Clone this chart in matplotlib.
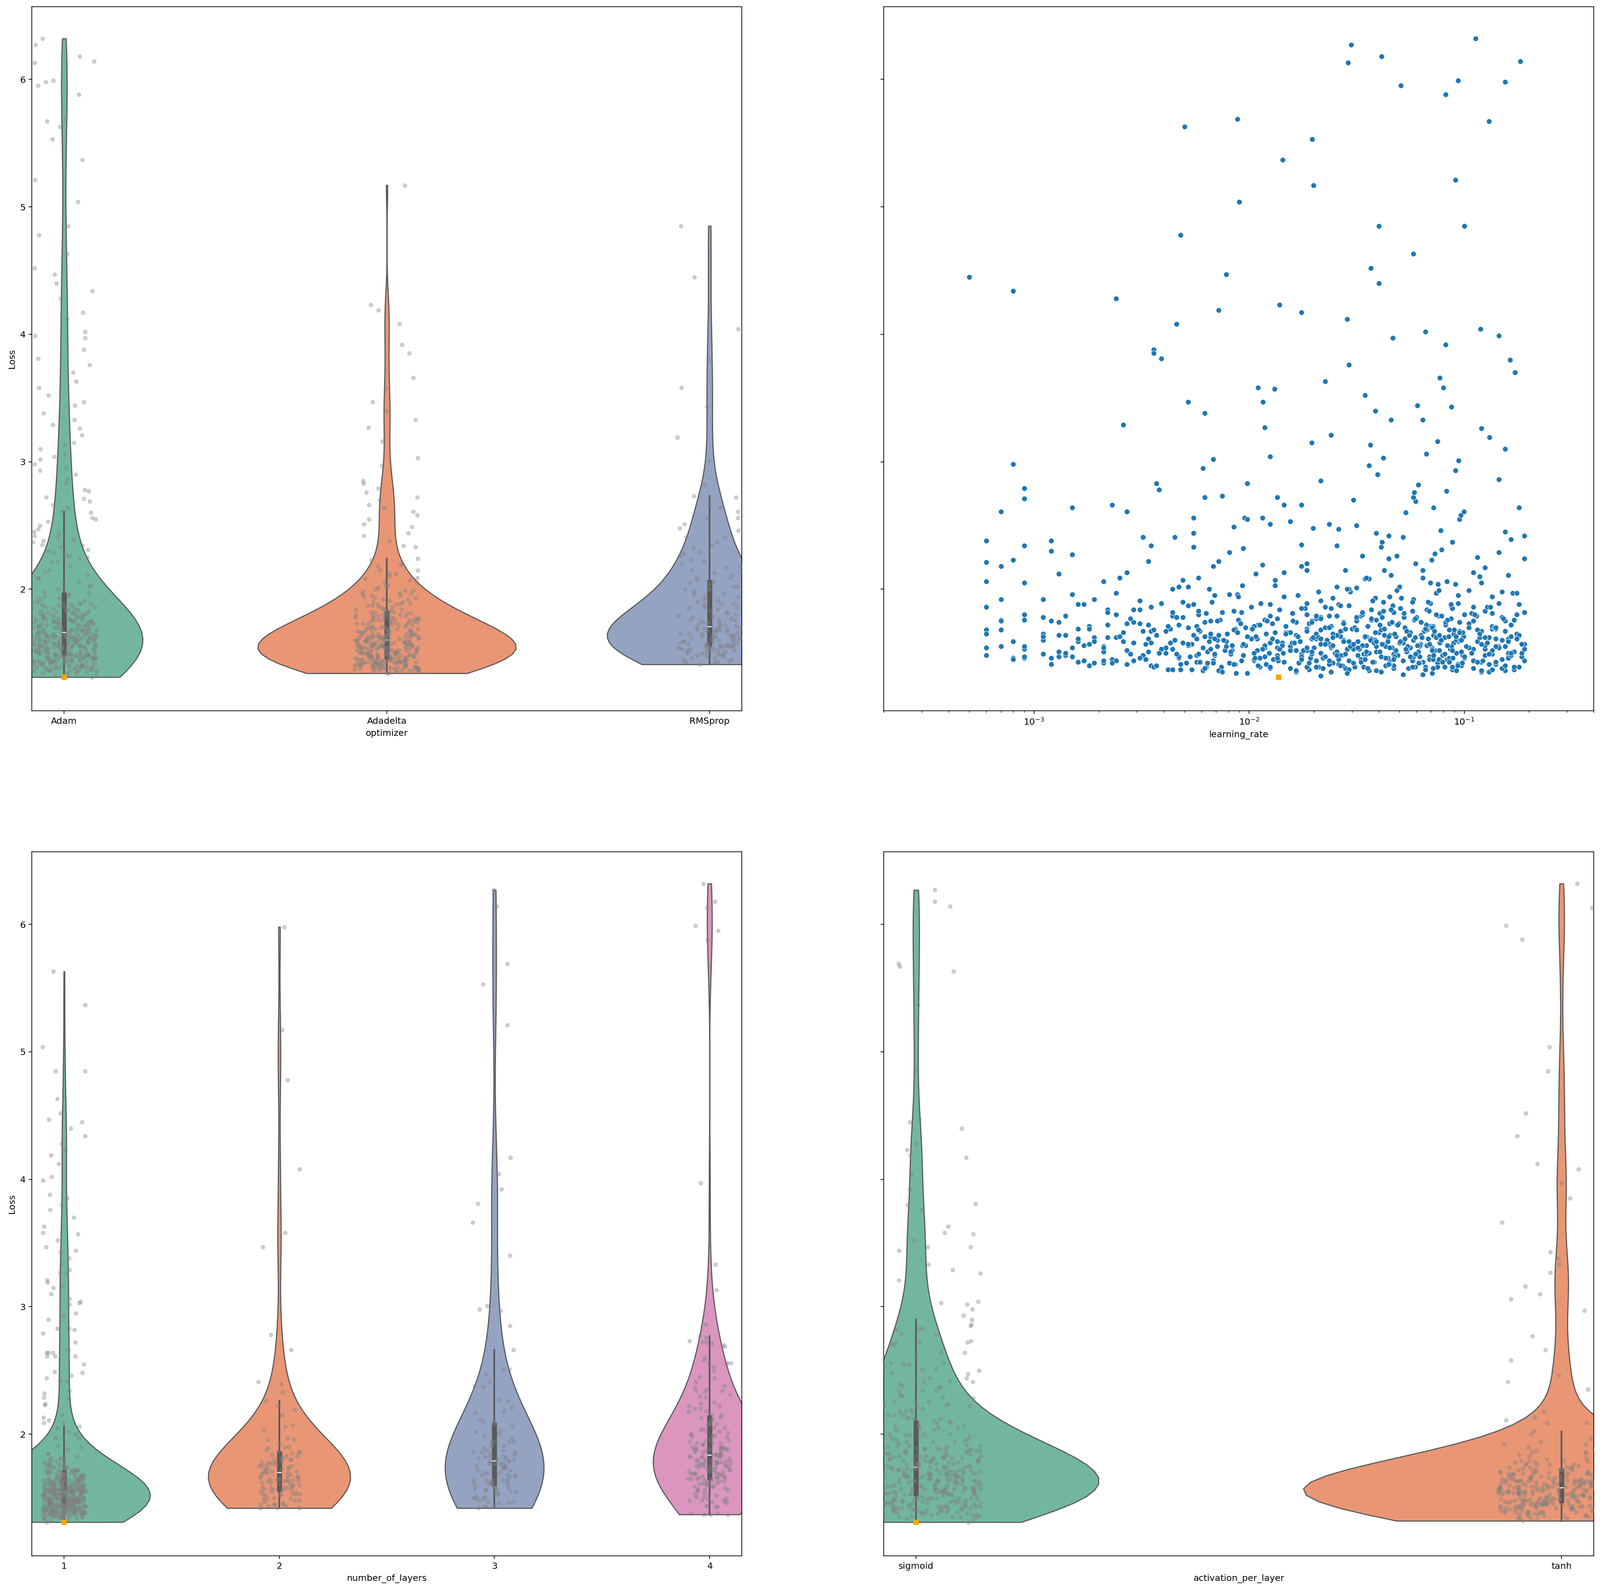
import numpy as np
import pandas as pd
import matplotlib
matplotlib.use('Agg')
import matplotlib.pyplot as plt
import seaborn as sns

optimizer_names = ['Adam', 'Adadelta', 'RMSprop']
activation_names = ['sigmoid', 'tanh']
layer_names = ['1', '2', '3', '4']

# trials grouped by optimizer; layers = number_of_layers, act = index into activation_names
loss_adam = [
    1.31, 1.33, 1.34, 1.34, 1.35, 1.35, 1.36, 1.36, 1.36, 1.37,
    1.37, 1.37, 1.38, 1.38, 1.38, 1.38, 1.39, 1.39, 1.39, 1.39,
    1.39, 1.39, 1.40, 1.40, 1.40, 1.41, 1.41, 1.41, 1.41, 1.42,
    1.42, 1.42, 1.42, 1.43, 1.43, 1.43, 1.43, 1.44, 1.44, 1.44,
    1.44, 1.44, 1.45, 1.45, 1.45, 1.45, 1.45, 1.46, 1.46, 1.46,
    1.46, 1.46, 1.47, 1.47, 1.47, 1.47, 1.47, 1.48, 1.48, 1.48,
    1.48, 1.48, 1.49, 1.49, 1.49, 1.49, 1.49, 1.49, 1.50, 1.50,
    1.50, 1.51, 1.51, 1.51, 1.52, 1.52, 1.52, 1.52, 1.53, 1.53,
    1.53, 1.53, 1.54, 1.54, 1.54, 1.54, 1.54, 1.55, 1.55, 1.55,
    1.55, 1.56, 1.56, 1.56, 1.56, 1.57, 1.57, 1.57, 1.57, 1.58,
    1.58, 1.58, 1.58, 1.58, 1.59, 1.59, 1.59, 1.59, 1.59, 1.60,
    1.60, 1.60, 1.61, 1.61, 1.61, 1.61, 1.62, 1.62, 1.62, 1.62,
    1.63, 1.63, 1.63, 1.63, 1.64, 1.64, 1.64, 1.64, 1.64, 1.65,
    1.65, 1.65, 1.66, 1.66, 1.66, 1.67, 1.67, 1.67, 1.68, 1.68,
    1.68, 1.69, 1.69, 1.69, 1.70, 1.70, 1.71, 1.71, 1.71, 1.72,
    1.72, 1.72, 1.73, 1.73, 1.74, 1.74, 1.74, 1.75, 1.75, 1.76,
    1.76, 1.77, 1.77, 1.78, 1.78, 1.79, 1.79, 1.80, 1.80, 1.81,
    1.82, 1.82, 1.83, 1.84, 1.84, 1.85, 1.86, 1.86, 1.87, 1.88,
    1.88, 1.89, 1.90, 1.91, 1.92, 1.93, 1.94, 1.95, 1.96, 1.97,
    1.98, 1.99, 2.00, 2.02, 2.03, 2.05, 2.06, 2.08, 2.09, 2.11,
    2.13, 2.15, 2.18, 2.21, 2.25, 2.29, 2.33, 2.38, 2.42, 2.47,
    2.56, 2.64, 2.71, 2.78, 2.86, 2.95, 3.10, 3.47, 3.70, 3.97,
    4.34, 4.40, 4.52, 4.78, 4.85, 5.04, 5.21, 5.37, 5.53, 5.63,
    5.67, 5.69, 5.88, 5.95, 5.98, 5.99, 6.13, 6.14, 6.18, 6.27,
    6.32,
    1.32, 1.33, 1.34, 1.35, 1.36, 1.37, 1.37, 1.38, 1.39, 1.39,
    1.40, 1.40, 1.41, 1.42, 1.42, 1.43, 1.43, 1.44, 1.44, 1.44,
    1.45, 1.45, 1.46, 1.46, 1.46, 1.47, 1.47, 1.47, 1.48, 1.48,
    1.48, 1.49, 1.49, 1.50, 1.50, 1.51, 1.51, 1.52, 1.52, 1.53,
    1.53, 1.54, 1.54, 1.55, 1.55, 1.55, 1.56, 1.56, 1.57, 1.57,
    1.57, 1.58, 1.58, 1.58, 1.59, 1.59, 1.60, 1.60, 1.60, 1.61,
    1.61, 1.61, 1.62, 1.62, 1.62, 1.63, 1.63, 1.63, 1.64, 1.64,
    1.64, 1.65, 1.65, 1.66, 1.66, 1.67, 1.67, 1.68, 1.68, 1.69,
    1.69, 1.70, 1.70, 1.71, 1.71, 1.72, 1.72, 1.73, 1.73, 1.73,
    1.74, 1.74, 1.75, 1.75, 1.75, 1.76, 1.76, 1.77, 1.77, 1.78,
    1.78, 1.79, 1.79, 1.80, 1.80, 1.80, 1.81, 1.81, 1.82, 1.83,
    1.83, 1.84, 1.85, 1.86, 1.86, 1.87, 1.88, 1.89, 1.89, 1.90,
    2.93, 3.04, 3.13, 3.29, 3.44, 3.63, 3.81, 3.99, 4.12, 4.47,
    2.24, 2.27, 2.31, 2.35, 2.39, 2.44, 2.50, 2.55, 2.60, 2.66,
    2.72, 2.77, 2.83, 2.90, 2.98, 3.06, 3.15, 3.26, 3.38, 3.52,
    2.22, 2.26, 2.30, 2.34, 2.37, 2.41, 2.45, 2.53, 2.61, 2.69,
    3.02, 3.21, 3.33, 3.58, 3.76, 3.88, 4.02, 4.17, 4.28, 4.63,
]
lr_adam = [
    0.0137, 0.052, 0.0098, 0.071, 0.024, 0.13, 0.0061, 0.036, 0.155, 0.019,
    0.088, 0.0042, 0.028, 0.11, 0.047, 0.0155, 0.066, 0.18, 0.0074, 0.031,
    0.059, 0.021, 0.0035, 0.097, 0.043, 0.012, 0.14, 0.0086, 0.026, 0.0021,
    0.075, 0.017, 0.0051, 0.12, 0.038, 0.0016, 0.064, 0.029, 0.19, 0.0105,
    0.045, 0.0068, 0.083, 0.0023, 0.15, 0.033, 0.0129, 0.057, 0.0047, 0.0009,
    0.1, 0.022, 0.0013, 0.069, 0.0118, 0.041, 0.16, 0.0057, 0.027, 0.079,
    0.0032, 0.049, 0.135, 0.0175, 0.0082, 0.061, 0.034, 0.0011, 0.092, 0.0144,
    0.025, 0.0064, 0.17, 0.039, 0.0185, 0.0027, 0.073, 0.0109, 0.054, 0.125,
    0.0039, 0.086, 0.02, 0.0006, 0.046, 0.0135, 0.105, 0.0071, 0.03, 0.062,
    0.145, 0.0093, 0.035, 0.0017, 0.068, 0.0235, 0.0054, 0.19, 0.042, 0.0125,
    0.077, 0.0029, 0.051, 0.016, 0.115, 0.0078, 0.032, 0.0008, 0.094, 0.023,
    0.0045, 0.058, 0.0195, 0.16, 0.037, 0.0102, 0.081, 0.0019, 0.044, 0.13,
    0.0265, 0.0066, 0.099, 0.048, 0.0014, 0.0165, 0.072, 0.0037, 0.175, 0.056,
    0.012, 0.089, 0.0026, 0.04, 0.0148, 0.12, 0.0059, 0.065, 0.0215, 0.0007,
    0.085, 0.0043, 0.03, 0.14, 0.0096, 0.053, 0.0018, 0.024, 0.07, 0.011,
    0.165, 0.0034, 0.045, 0.0128, 0.095, 0.0062, 0.0275, 0.11, 0.0012, 0.039,
    0.0089, 0.06, 0.0205, 0.15, 0.0049, 0.076, 0.033, 0.0024, 0.1, 0.0158,
    0.047, 0.0075, 0.125, 0.0022, 0.067, 0.0182, 0.0006, 0.087, 0.029, 0.0055,
    0.18, 0.0113, 0.042, 0.0031, 0.058, 0.0245, 0.135, 0.0069, 0.0015, 0.074,
    0.021, 0.105, 0.0044, 0.05, 0.0132, 0.0009, 0.083, 0.036, 0.0058, 0.16,
    0.0027, 0.064, 0.0175, 0.0006, 0.115, 0.0081, 0.041, 0.0012, 0.19, 0.026,
    0.0095, 0.072, 0.0009, 0.0038, 0.145, 0.0061, 0.155, 0.0052, 0.172, 0.0464,
    0.0008, 0.040, 0.0368, 0.0048, 0.100, 0.0090, 0.091, 0.0143, 0.0196, 0.0050,
    0.130, 0.0088, 0.082, 0.0507, 0.155, 0.0935, 0.0288, 0.182, 0.0412, 0.0297,
    0.113,
    0.0215, 0.064, 0.0087, 0.12, 0.039, 0.0054, 0.17, 0.028, 0.0112, 0.081,
    0.047, 0.0018, 0.093, 0.0245, 0.0068, 0.14, 0.033, 0.0136, 0.0575, 0.0029,
    0.0105, 0.076, 0.0008, 0.044, 0.0192, 0.185, 0.0047, 0.062, 0.0265, 0.0014,
    0.098, 0.0058, 0.035, 0.0124, 0.16, 0.0021, 0.054, 0.0178, 0.0083, 0.11,
    0.0305, 0.0041, 0.071, 0.0155, 0.0007, 0.043, 0.125, 0.0096, 0.0225, 0.0625,
    0.0033, 0.089, 0.0142, 0.052, 0.0016, 0.029, 0.15, 0.0071, 0.0385, 0.0205,
    0.068, 0.0109, 0.0024, 0.118, 0.0345, 0.0062, 0.0845, 0.0168, 0.0011, 0.045,
    0.0255, 0.175, 0.0079, 0.056, 0.0132, 0.0035, 0.095, 0.041, 0.0006, 0.0185,
    0.135, 0.0052, 0.031, 0.0715, 0.0148, 0.0022, 0.0485, 0.105, 0.0091, 0.0275,
    0.0013, 0.063, 0.0195, 0.155, 0.0066, 0.037, 0.0118, 0.0865, 0.0028, 0.0525,
    0.0215, 0.114, 0.0044, 0.0335, 0.0009, 0.074, 0.0159, 0.0405, 0.19, 0.0085,
    0.0575, 0.0031, 0.024, 0.128, 0.0102, 0.0465, 0.0017, 0.0695, 0.0185, 0.0049,
    0.091, 0.0125, 0.0365, 0.0026, 0.0605, 0.0225, 0.0039, 0.145, 0.0285, 0.0078,
    0.0445, 0.0015, 0.0785, 0.0175, 0.165, 0.0055, 0.0315, 0.0098, 0.0535, 0.0023,
    0.0135, 0.0825, 0.0037, 0.0395, 0.0008, 0.0665, 0.0195, 0.12, 0.0062, 0.0345,
    0.0072, 0.0485, 0.0012, 0.0255, 0.088, 0.0045, 0.155, 0.0155, 0.0007, 0.0595,
    0.0068, 0.024, 0.0455, 0.011, 0.029, 0.0036, 0.066, 0.0175, 0.0024, 0.058,
]
layers_adam = [
    1, 1, 1, 1, 1, 1, 1, 1, 1, 4,
    1, 1, 1, 4, 1, 1, 1, 1, 1, 1,
    1, 1, 1, 1, 1, 1, 1, 1, 1, 1,
    1, 1, 1, 3, 1, 1, 4, 1, 2, 1,
    1, 1, 1, 2, 1, 1, 1, 1, 3, 1,
    1, 1, 1, 1, 2, 1, 1, 4, 1, 1,
    1, 3, 1, 1, 1, 1, 1, 1, 2, 1,
    1, 1, 4, 1, 1, 2, 1, 3, 1, 1,
    1, 2, 1, 1, 1, 1, 1, 3, 1, 1,
    1, 1, 2, 1, 4, 1, 1, 3, 1, 1,
    1, 2, 1, 1, 3, 1, 1, 1, 1, 1,
    1, 2, 1, 4, 1, 1, 3, 1, 2, 1,
    1, 1, 4, 1, 2, 1, 3, 1, 1, 4,
    1, 2, 1, 4, 1, 3, 1, 1, 4, 1,
    1, 4, 2, 1, 3, 1, 4, 1, 2, 1,
    4, 1, 2, 3, 1, 4, 1, 2, 4, 1,
    4, 4, 3, 2, 4, 1, 4, 2, 1, 3,
    4, 4, 3, 2, 4, 1, 4, 2, 3, 4,
    4, 2, 4, 3, 4, 4, 3, 4, 2, 1,
    4, 3, 1, 4, 2, 4, 3, 4, 1, 4,
    4, 1, 4, 3, 4, 1, 2, 4, 1, 3,
    4, 1, 4, 2, 4, 1, 1, 1, 1, 4,
    1, 1, 1, 2, 1, 1, 3, 1, 3, 1,
    4, 3, 4, 4, 2, 4, 4, 3, 4, 3,
    4,
    1, 1, 1, 1, 1, 4, 1, 1, 1, 1,
    1, 1, 1, 2, 1, 3, 1, 4, 1, 1,
    1, 2, 1, 4, 1, 3, 1, 1, 4, 1,
    1, 4, 1, 2, 3, 1, 4, 1, 2, 1,
    4, 1, 3, 1, 2, 4, 1, 1, 3, 4,
    1, 4, 2, 1, 3, 4, 1, 2, 4, 3,
    4, 2, 1, 3, 4, 1, 2, 4, 3, 1,
    2, 4, 3, 1, 4, 2, 4, 3, 1, 4,
    4, 3, 2, 4, 1, 4, 3, 2, 4, 1,
    2, 4, 3, 4, 1, 2, 4, 3, 4, 2,
    4, 3, 4, 2, 3, 4, 1, 3, 4, 2,
    3, 4, 2, 4, 3, 4, 1, 3, 4, 2,
    1, 1, 4, 1, 1, 1, 3, 1, 1, 1,
    4, 3, 4, 4, 2, 1, 4, 1, 4, 1,
    1, 4, 1, 1, 3, 1, 1, 1, 1, 1,
    4, 3, 4, 1, 4, 3, 4, 4, 1, 4,
    1, 1, 1, 2, 1, 1, 1, 3, 1, 1,
]
act_adam = [
    0, 1, 0, 1, 0, 0, 1, 0, 1, 0,
    1, 0, 0, 1, 0, 1, 0, 0, 1, 0,
    0, 1, 1, 0, 0, 1, 0, 1, 0, 0,
    1, 0, 1, 0, 1, 0, 0, 1, 0, 1,
    0, 1, 1, 0, 1, 0, 1, 0, 1, 0,
    1, 0, 1, 1, 0, 1, 0, 1, 0, 1,
    1, 1, 0, 1, 0, 1, 0, 1, 1, 0,
    0, 1, 1, 0, 1, 1, 0, 1, 0, 1,
    1, 0, 1, 1, 0, 1, 1, 0, 1, 0,
    1, 1, 0, 1, 1, 0, 1, 0, 1, 0,
    0, 1, 1, 0, 1, 1, 0, 1, 1, 0,
    1, 0, 1, 1, 0, 1, 0, 1, 1, 0,
    0, 1, 0, 1, 1, 0, 1, 0, 1, 0,
    1, 0, 1, 0, 0, 1, 0, 1, 0, 1,
    0, 1, 0, 1, 0, 0, 1, 0, 1, 0,
    1, 0, 0, 1, 0, 0, 1, 0, 0, 1,
    0, 0, 1, 0, 0, 1, 0, 0, 1, 0,
    0, 1, 0, 0, 0, 1, 0, 0, 1, 0,
    0, 0, 1, 0, 0, 0, 1, 0, 0, 0,
    0, 0, 0, 1, 0, 0, 0, 0, 1, 0,
    0, 0, 1, 0, 0, 0, 0, 1, 0, 0,
    0, 1, 0, 0, 0, 0, 1, 0, 0, 1,
    1, 0, 1, 0, 1, 1, 0, 0, 1, 0,
    0, 0, 1, 0, 0, 1, 1, 0, 0, 0,
    1,
    1, 0, 1, 0, 0, 1, 0, 1, 0, 1,
    0, 1, 0, 1, 1, 0, 0, 1, 0, 0,
    1, 0, 1, 1, 0, 1, 0, 1, 1, 0,
    0, 1, 1, 0, 1, 0, 1, 1, 0, 1,
    1, 1, 0, 1, 0, 1, 1, 0, 1, 0,
    0, 1, 1, 0, 1, 1, 0, 1, 0, 1,
    1, 0, 1, 1, 0, 1, 0, 1, 1, 0,
    0, 1, 0, 1, 1, 0, 1, 0, 0, 1,
    1, 0, 0, 1, 0, 1, 0, 0, 1, 0,
    0, 1, 0, 0, 1, 0, 1, 0, 0, 1,
    0, 0, 1, 0, 0, 1, 0, 0, 0, 1,
    0, 1, 0, 0, 0, 0, 1, 0, 0, 0,
    0, 0, 1, 0, 0, 0, 0, 0, 1, 0,
    0, 0, 0, 1, 0, 0, 0, 0, 0, 0,
    0, 1, 0, 0, 0, 1, 0, 0, 1, 0,
    0, 0, 0, 0, 0, 0, 1, 0, 0, 0,
    0, 0, 1, 0, 0, 1, 0, 0, 0, 1,
]

loss_adadelta = [
    1.34, 1.35, 1.35, 1.36, 1.36, 1.37, 1.37, 1.37, 1.38, 1.38,
    1.38, 1.38, 1.39, 1.39, 1.39, 1.39, 1.39, 1.39, 1.39, 1.40,
    1.40, 1.40, 1.41, 1.41, 1.41, 1.41, 1.42, 1.42, 1.42, 1.42,
    1.43, 1.43, 1.43, 1.43, 1.43, 1.44, 1.44, 1.44, 1.44, 1.44,
    1.45, 1.45, 1.45, 1.45, 1.46, 1.46, 1.46, 1.46, 1.46, 1.47,
    1.47, 1.47, 1.47, 1.47, 1.48, 1.48, 1.48, 1.48, 1.49, 1.49,
    1.49, 1.49, 1.49, 1.50, 1.50, 1.50, 1.51, 1.51, 1.51, 1.51,
    1.52, 1.52, 1.52, 1.52, 1.53, 1.53, 1.53, 1.53, 1.54, 1.54,
    1.54, 1.54, 1.54, 1.55, 1.55, 1.55, 1.55, 1.56, 1.56, 1.56,
    1.56, 1.57, 1.57, 1.57, 1.57, 1.58, 1.58, 1.58, 1.59, 1.59,
    1.59, 1.59, 1.60, 1.60, 1.60, 1.61, 1.61, 1.61, 1.62, 1.62,
    1.62, 1.63, 1.63, 1.63, 1.64, 1.64, 1.64, 1.65, 1.65, 1.66,
    1.66, 1.67, 1.67, 1.68, 1.68, 1.69, 1.69, 1.70, 1.70, 1.71,
    1.72, 1.72, 1.73, 1.74, 1.74, 1.75, 1.76, 1.76, 1.77, 1.78,
    1.78, 1.79, 1.80, 1.81, 1.82, 1.83, 1.84, 1.85, 1.86, 1.88,
    1.89, 1.90, 1.92, 1.93, 1.95, 1.97, 1.99, 2.01, 2.03, 2.05,
    2.07, 2.09, 2.12, 2.15, 2.19, 2.24, 2.33, 2.38, 2.44, 2.49,
    2.55, 2.61, 2.66, 2.72, 2.79, 2.85, 2.97, 3.03, 3.16, 3.27,
    3.33, 3.40, 3.47, 3.57, 3.66, 3.85, 3.92, 4.08, 4.19, 4.23,
    5.17,
    1.34, 1.35, 1.36, 1.36, 1.37, 1.37, 1.38, 1.38, 1.38, 1.39,
    1.39, 1.39, 1.40, 1.40, 1.40, 1.41, 1.41, 1.41, 1.42, 1.42,
    1.42, 1.42, 1.43, 1.43, 1.43, 1.44, 1.44, 1.44, 1.45, 1.45,
    1.45, 1.46, 1.46, 1.46, 1.47, 1.47, 1.48, 1.48, 1.48, 1.49,
    1.49, 1.50, 1.50, 1.50, 1.51, 1.51, 1.52, 1.52, 1.53, 1.53,
    1.53, 1.54, 1.54, 1.55, 1.55, 1.55, 1.56, 1.56, 1.56, 1.57,
    1.57, 1.57, 1.58, 1.58, 1.58, 1.59, 1.59, 1.59, 1.60, 1.60,
    1.60, 1.61, 1.61, 1.61, 1.62, 1.62, 1.62, 1.63, 1.63, 1.63,
    1.64, 1.64, 1.65, 1.65, 1.65, 1.66, 1.66, 1.67, 1.67, 1.67,
    1.68, 1.68, 1.69, 1.69, 1.70, 1.70, 1.71, 1.71, 1.72, 1.72,
    1.73, 1.73, 1.74, 1.74, 1.75, 1.75, 1.76, 1.76, 1.77, 1.77,
    1.77, 1.78, 1.78, 1.79, 1.79, 1.79, 1.80, 1.80, 1.81, 1.81,
    1.82, 1.82, 1.83, 1.84, 1.84, 1.85, 1.86, 1.87, 1.87, 1.88,
    1.89, 1.90, 1.91, 1.92, 1.93, 1.94, 1.95, 1.96, 1.97, 1.98,
    1.99, 2.00, 2.02, 2.04, 2.06, 2.08, 2.10, 2.12, 2.15, 2.18,
    2.20, 2.23, 2.34, 2.42, 2.51, 2.58, 2.64, 2.70, 2.76, 2.83,
]
lr_adadelta = [
    0.0098, 0.041, 0.0165, 0.12, 0.0072, 0.029, 0.066, 0.0044, 0.15, 0.022,
    0.055, 0.0125, 0.088, 0.0036, 0.034, 0.17, 0.0185, 0.0063, 0.075, 0.027,
    0.011, 0.093, 0.0048, 0.045, 0.0235, 0.13, 0.0081, 0.062, 0.0019, 0.0305,
    0.14, 0.0057, 0.038, 0.0145, 0.079, 0.0024, 0.052, 0.0092, 0.11, 0.0205,
    0.069, 0.0033, 0.026, 0.0175, 0.16, 0.0008, 0.043, 0.0112, 0.085, 0.0053,
    0.0225, 0.1, 0.0015, 0.058, 0.0135, 0.032, 0.0069, 0.125, 0.047, 0.0028,
    0.081, 0.0195, 0.0046, 0.185, 0.036, 0.0105, 0.061, 0.0013, 0.0255, 0.097,
    0.0077, 0.048, 0.0165, 0.135, 0.0039, 0.071, 0.0285, 0.0009, 0.056, 0.0118,
    0.105, 0.024, 0.0061, 0.087, 0.0021, 0.039, 0.155, 0.0142, 0.067, 0.0052,
    0.0335, 0.0094, 0.12, 0.0018, 0.0215, 0.077, 0.0043, 0.05, 0.0172, 0.16,
    0.0065, 0.044, 0.0011, 0.092, 0.0275, 0.0128, 0.14, 0.0034, 0.059, 0.0198,
    0.074, 0.0025, 0.035, 0.0107, 0.18, 0.0055, 0.063, 0.0245, 0.0006, 0.098,
    0.0152, 0.054, 0.0041, 0.115, 0.0315, 0.0086, 0.0016, 0.071, 0.0225, 0.135,
    0.0047, 0.082, 0.019, 0.0029, 0.046, 0.0121, 0.17, 0.0073, 0.037, 0.0011,
    0.06, 0.0205, 0.0058, 0.108, 0.0022, 0.042, 0.0138, 0.088, 0.0035, 0.026,
    0.145, 0.0067, 0.0007, 0.051, 0.0168, 0.0024, 0.076, 0.0315, 0.0093, 0.12,
    0.0049, 0.064, 0.0013, 0.028, 0.0115, 0.19, 0.0055, 0.0006, 0.039, 0.0085,
    0.095, 0.0027, 0.0145, 0.058, 0.0009, 0.0215, 0.036, 0.042, 0.075, 0.0118,
    0.064, 0.0386, 0.0116, 0.0131, 0.077, 0.0036, 0.082, 0.0046, 0.0072, 0.0138,
    0.0199,
    0.0285, 0.0075, 0.092, 0.0165, 0.0048, 0.135, 0.0355, 0.0062, 0.0715, 0.0205,
    0.0125, 0.0575, 0.0037, 0.155, 0.0265, 0.0085, 0.0012, 0.0445, 0.019, 0.0615,
    0.0023, 0.0975, 0.0145, 0.0375, 0.0059, 0.122, 0.0017, 0.0235, 0.0715, 0.0008,
    0.0345, 0.0106, 0.0885, 0.0031, 0.0475, 0.0175, 0.0006, 0.165, 0.0255, 0.0069,
    0.0595, 0.0014, 0.0215, 0.108, 0.0082, 0.0405, 0.0027, 0.0765, 0.0138, 0.0325,
    0.0044, 0.145, 0.0185, 0.0545, 0.0009, 0.0295, 0.0118, 0.0835, 0.0052, 0.0415,
    0.0225, 0.0689, 0.0035, 0.128, 0.0158, 0.0019, 0.0505, 0.0275, 0.0076, 0.0955,
    0.0365, 0.0057, 0.175, 0.0128, 0.0635, 0.0022, 0.0245, 0.0915, 0.0098, 0.0445,
    0.0013, 0.0555, 0.0205, 0.118, 0.0066, 0.0385, 0.0155, 0.0032, 0.0725, 0.0268,
    0.0895, 0.0085, 0.0425, 0.0018, 0.0235, 0.138, 0.0057, 0.0355, 0.0112, 0.0665,
    0.0027, 0.0495, 0.0165, 0.095, 0.0071, 0.0315, 0.0009, 0.0585, 0.0215, 0.152,
    0.0135, 0.0415, 0.0046, 0.0785, 0.0255, 0.0014, 0.112, 0.0185, 0.0063, 0.0525,
    0.0335, 0.0092, 0.0685, 0.0029, 0.0455, 0.0175, 0.132, 0.0052, 0.0265, 0.0865,
    0.0039, 0.0575, 0.0215, 0.0011, 0.0385, 0.0145, 0.0935, 0.0081, 0.168, 0.0295,
    0.0485, 0.0065, 0.0255, 0.0755, 0.0021, 0.0345, 0.118, 0.0107, 0.0425, 0.0007,
    0.0185, 0.0705, 0.0035, 0.0445, 0.0125, 0.0965, 0.0015, 0.0305, 0.0585, 0.0098,
]
layers_adadelta = [
    1, 1, 1, 1, 1, 1, 1, 1, 4, 1,
    1, 1, 1, 1, 1, 1, 1, 1, 1, 1,
    1, 1, 1, 1, 1, 1, 2, 1, 1, 1,
    1, 3, 1, 1, 4, 1, 1, 1, 1, 1,
    1, 1, 2, 1, 1, 1, 1, 3, 1, 1,
    1, 1, 4, 1, 1, 2, 1, 1, 3, 1,
    1, 2, 1, 1, 1, 1, 1, 3, 1, 1,
    1, 1, 4, 1, 2, 1, 1, 1, 3, 1,
    1, 2, 1, 1, 1, 1, 3, 1, 1, 1,
    1, 1, 2, 1, 4, 1, 1, 3, 1, 1,
    1, 2, 1, 4, 1, 1, 3, 1, 2, 1,
    1, 4, 1, 2, 1, 3, 1, 4, 1, 2,
    4, 1, 2, 1, 3, 1, 4, 1, 2, 1,
    1, 4, 2, 3, 1, 4, 1, 2, 4, 1,
    4, 4, 3, 2, 4, 1, 4, 3, 2, 4,
    4, 4, 2, 4, 3, 1, 4, 4, 3, 1,
    4, 1, 3, 4, 2, 1, 4, 3, 4, 1,
    4, 1, 2, 4, 1, 3, 3, 1, 1, 1,
    4, 3, 2, 1, 3, 1, 3, 2, 1, 1,
    2,
    1, 1, 1, 1, 1, 4, 1, 1, 1, 1,
    1, 1, 1, 1, 1, 1, 1, 1, 2, 1,
    1, 3, 1, 1, 4, 1, 2, 1, 1, 1,
    1, 1, 2, 1, 1, 3, 1, 4, 1, 1,
    2, 1, 1, 4, 1, 3, 1, 1, 2, 1,
    1, 4, 1, 2, 1, 1, 3, 1, 4, 1,
    2, 1, 1, 3, 1, 4, 1, 2, 1, 1,
    1, 4, 2, 1, 3, 1, 1, 4, 2, 1,
    3, 1, 4, 2, 1, 4, 1, 3, 2, 1,
    4, 2, 1, 3, 4, 1, 2, 4, 1, 3,
    2, 4, 1, 3, 4, 2, 1, 4, 3, 2,
    4, 3, 2, 4, 1, 3, 4, 2, 4, 1,
    3, 4, 2, 4, 3, 4, 2, 4, 3, 4,
    4, 2, 3, 4, 4, 3, 4, 4, 3, 4,
    4, 3, 4, 4, 2, 4, 3, 4, 4, 4,
    4, 2, 4, 1, 3, 4, 1, 4, 4, 1,
]
act_adadelta = [
    1, 0, 1, 0, 0, 1, 0, 1, 0, 0,
    0, 1, 0, 1, 0, 0, 1, 0, 1, 1,
    1, 0, 1, 0, 1, 0, 0, 1, 0, 1,
    0, 1, 1, 0, 1, 0, 1, 0, 0, 1,
    1, 0, 1, 1, 0, 1, 0, 1, 0, 1,
    0, 1, 1, 0, 1, 0, 1, 1, 0, 0,
    1, 1, 0, 1, 0, 1, 1, 0, 1, 0,
    1, 0, 1, 1, 0, 1, 0, 1, 1, 0,
    0, 1, 1, 0, 1, 1, 0, 1, 0, 1,
    1, 1, 0, 1, 0, 1, 1, 0, 1, 0,
    1, 0, 1, 0, 1, 1, 0, 1, 0, 1,
    0, 1, 0, 1, 1, 0, 1, 0, 1, 0,
    1, 0, 1, 0, 0, 1, 0, 1, 0, 0,
    0, 1, 0, 0, 1, 0, 1, 0, 0, 1,
    1, 0, 0, 1, 0, 0, 1, 0, 0, 0,
    0, 0, 1, 0, 0, 0, 1, 0, 0, 0,
    0, 1, 0, 0, 0, 0, 1, 0, 0, 0,
    0, 0, 1, 0, 0, 0, 1, 0, 1, 1,
    0, 0, 0, 0, 1, 1, 0, 1, 0, 0,
    0,
    1, 0, 1, 0, 0, 1, 0, 1, 0, 1,
    0, 1, 1, 0, 1, 0, 0, 1, 0, 1,
    1, 0, 1, 1, 0, 1, 0, 0, 1, 0,
    1, 0, 1, 1, 0, 1, 0, 1, 1, 0,
    1, 1, 0, 1, 0, 1, 1, 0, 1, 0,
    0, 1, 1, 0, 1, 1, 0, 1, 0, 1,
    1, 0, 1, 1, 0, 1, 1, 0, 1, 0,
    0, 1, 0, 1, 1, 0, 1, 0, 1, 1,
    1, 0, 1, 0, 0, 1, 0, 1, 0, 1,
    0, 1, 0, 0, 1, 0, 1, 0, 0, 1,
    1, 0, 0, 1, 0, 0, 1, 0, 1, 0,
    0, 0, 1, 0, 0, 1, 0, 0, 1, 0,
    0, 1, 0, 0, 0, 0, 1, 0, 0, 0,
    0, 0, 0, 1, 0, 0, 0, 0, 1, 0,
    0, 0, 1, 0, 0, 0, 0, 0, 0, 0,
    0, 0, 0, 0, 0, 1, 0, 0, 0, 0,
]

loss_rmsprop = [
    1.41, 1.43, 1.45, 1.46, 1.47, 1.48, 1.49, 1.50, 1.51, 1.52,
    1.52, 1.53, 1.53, 1.54, 1.54, 1.55, 1.55, 1.56, 1.56, 1.57,
    1.57, 1.58, 1.58, 1.59, 1.60, 1.61, 1.61, 1.62, 1.63, 1.64,
    1.64, 1.65, 1.66, 1.67, 1.68, 1.68, 1.69, 1.70, 1.71, 1.72,
    1.73, 1.74, 1.75, 1.76, 1.77, 1.79, 1.80, 1.82, 1.84, 1.86,
    1.88, 1.90, 1.92, 1.94, 1.96, 1.98, 2.00, 2.02, 2.04, 2.06,
    2.09, 2.13, 2.17, 2.22, 2.28, 2.34, 2.41, 2.48, 2.56, 2.64,
    2.73, 2.82, 3.01, 3.19, 3.43, 3.58, 3.80, 4.04, 4.45, 4.85,
    1.42, 1.43, 1.44, 1.45, 1.46, 1.47, 1.48, 1.49, 1.50, 1.50,
    1.51, 1.51, 1.52, 1.53, 1.53, 1.54, 1.54, 1.55, 1.55, 1.56,
    1.56, 1.57, 1.57, 1.58, 1.59, 1.59, 1.60, 1.61, 1.61, 1.62,
    1.63, 1.63, 1.64, 1.65, 1.65, 1.66, 1.67, 1.67, 1.68, 1.69,
    1.69, 1.70, 1.71, 1.72, 1.74, 1.75, 1.76, 1.78, 1.79, 1.81,
    1.83, 1.85, 1.86, 1.88, 1.89, 1.91, 1.94, 1.97, 2.00, 2.02,
    2.05, 2.07, 2.09, 2.11, 2.13, 2.15, 2.18, 2.20, 2.23, 2.26,
    2.29, 2.32, 2.37, 2.41, 2.46, 2.51, 2.56, 2.61, 2.66, 2.72,
]
lr_rmsprop = [
    0.0027, 0.085, 0.0175, 0.0012, 0.056, 0.0094, 0.13, 0.0038, 0.035, 0.071,
    0.0155, 0.19, 0.0066, 0.045, 0.0021, 0.102, 0.024, 0.0083, 0.062, 0.0305,
    0.12, 0.0049, 0.038, 0.0135, 0.078, 0.0016, 0.053, 0.021, 0.165, 0.0072,
    0.0425, 0.0011, 0.095, 0.0185, 0.0058, 0.067, 0.028, 0.14, 0.0105, 0.049,
    0.0031, 0.082, 0.016, 0.0007, 0.059, 0.0235, 0.175, 0.0044, 0.037, 0.11,
    0.0125, 0.068, 0.0019, 0.045, 0.0088, 0.15, 0.029, 0.0052, 0.091, 0.0006,
    0.035, 0.0145, 0.125, 0.0034, 0.073, 0.0009, 0.052, 0.0198, 0.0115, 0.18,
    0.0075, 0.061, 0.094, 0.131, 0.087, 0.080, 0.163, 0.119, 0.0005, 0.0401,
    0.0064, 0.115, 0.0021, 0.047, 0.0135, 0.0009, 0.072, 0.028, 0.0041, 0.165,
    0.0195, 0.0034, 0.088, 0.0115, 0.0535, 0.0015, 0.032, 0.14, 0.0078, 0.0245,
    0.0605, 0.0052, 0.185, 0.0162, 0.039, 0.0026, 0.097, 0.0215, 0.0069, 0.125,
    0.0345, 0.0011, 0.0765, 0.0148, 0.0475, 0.0088, 0.155, 0.0265, 0.0036, 0.066,
    0.0103, 0.105, 0.0042, 0.0405, 0.0195, 0.0007, 0.0835, 0.0315, 0.0125, 0.135,
    0.0058, 0.0505, 0.0225, 0.0016, 0.0935, 0.0375, 0.0089, 0.175, 0.0285, 0.0047,
    0.0695, 0.0132, 0.0025, 0.0455, 0.11, 0.0185, 0.0068, 0.0595, 0.0008, 0.0335,
    0.145, 0.0094, 0.0415, 0.0032, 0.0775, 0.0235, 0.0055, 0.0995, 0.0175, 0.0062,
]
layers_rmsprop = [
    1, 1, 2, 1, 4, 1, 1, 3, 1, 1,
    1, 1, 4, 1, 2, 1, 1, 3, 1, 1,
    1, 2, 1, 4, 1, 1, 3, 1, 2, 1,
    4, 1, 2, 1, 3, 1, 4, 1, 2, 1,
    1, 4, 2, 1, 3, 4, 1, 2, 4, 3,
    4, 1, 3, 4, 2, 1, 4, 3, 4, 1,
    4, 1, 3, 4, 1, 4, 2, 1, 4, 1,
    4, 1, 3, 1, 1, 1, 1, 3, 1, 1,
    1, 1, 1, 1, 1, 1, 2, 1, 1, 1,
    1, 1, 1, 1, 2, 1, 1, 1, 1, 1,
    1, 1, 2, 1, 1, 1, 1, 1, 3, 1,
    1, 1, 2, 1, 1, 1, 4, 1, 1, 1,
    1, 2, 1, 1, 1, 3, 1, 1, 2, 1,
    4, 1, 3, 2, 4, 1, 3, 2, 4, 1,
    4, 2, 3, 1, 4, 2, 3, 4, 1, 2,
    4, 1, 3, 4, 1, 3, 4, 1, 3, 4,
]
act_rmsprop = [
    0, 1, 0, 1, 0, 0, 1, 0, 1, 0,
    1, 0, 1, 1, 0, 1, 0, 1, 1, 0,
    0, 1, 1, 0, 1, 1, 0, 1, 0, 1,
    1, 0, 1, 0, 1, 0, 1, 1, 0, 0,
    0, 1, 0, 0, 1, 0, 1, 0, 0, 1,
    0, 0, 1, 0, 0, 0, 1, 0, 0, 0,
    0, 1, 0, 0, 0, 0, 1, 0, 0, 0,
    0, 0, 0, 0, 1, 0, 0, 0, 0, 0,
    1, 0, 1, 0, 1, 1, 0, 1, 0, 1,
    0, 1, 1, 0, 1, 0, 1, 1, 0, 1,
    1, 0, 1, 1, 0, 1, 0, 1, 1, 0,
    0, 1, 0, 1, 1, 0, 1, 0, 0, 1,
    1, 0, 0, 1, 0, 1, 0, 0, 1, 0,
    0, 0, 1, 0, 0, 0, 0, 1, 0, 0,
    0, 0, 0, 1, 0, 0, 0, 0, 0, 0,
    0, 0, 0, 0, 1, 0, 0, 0, 0, 0,
]

blocks = [
    ('Adam', loss_adam, lr_adam, layers_adam, act_adam),
    ('Adadelta', loss_adadelta, lr_adadelta, layers_adadelta, act_adadelta),
    ('RMSprop', loss_rmsprop, lr_rmsprop, layers_rmsprop, act_rmsprop),
]
frames = []
for name, loss, lr, layers, act in blocks:
    frames.append(pd.DataFrame({
        'optimizer': name,
        'learning_rate': lr,
        'number_of_layers': [str(l) for l in layers],
        'activation_per_layer': [activation_names[a] for a in act],
        'loss': loss,
    }))
df = pd.concat(frames, ignore_index=True)

best_idx = df['loss'].idxmin()
best = df.loc[best_idx]

fig, axes = plt.subplots(2, 2, figsize=(3574 / 144, 3559 / 144), dpi=144, sharey=True)
fig.subplots_adjust(left=0.0199, right=0.9961, bottom=0.0233, top=0.9958,
                    wspace=0.2, hspace=0.2)


def violin_panel(ax, col, order):
    sns.violinplot(data=df, x=col, y='loss', hue=col, order=order, hue_order=order,
                   palette='Set2', cut=0, common_norm=True, legend=False, ax=ax)
    sns.stripplot(data=df, x=col, y='loss', order=order, color='gray', alpha=0.4, ax=ax)
    ax.scatter(order.index(best[col]), best['loss'], color='orange', marker='s',
               s=25, zorder=10)
    n = len(order)
    ax.set_xlim(-0.05 * (n - 1), 1.05 * (n - 1))
    ax.set_xlabel(col)


violin_panel(axes[0, 0], 'optimizer', optimizer_names)
violin_panel(axes[1, 0], 'number_of_layers', layer_names)
violin_panel(axes[1, 1], 'activation_per_layer', activation_names)

# learning rate scatter
ax = axes[0, 1]
sns.scatterplot(data=df.drop(best_idx), x='learning_rate', y='loss', ax=ax)
ax.scatter(best['learning_rate'], best['loss'], color='orange', marker='s', s=25, zorder=10)
ax.set_xscale('log')
ax.set_xlim(2.0e-4, 0.40)

for a in axes[:, 0]:
    a.set_ylabel('Loss')
for a in axes[:, 1]:
    a.set_ylabel('')
axes[0, 0].set_ylim(1.045, 6.57)

fig.savefig('out.png', dpi=144)
